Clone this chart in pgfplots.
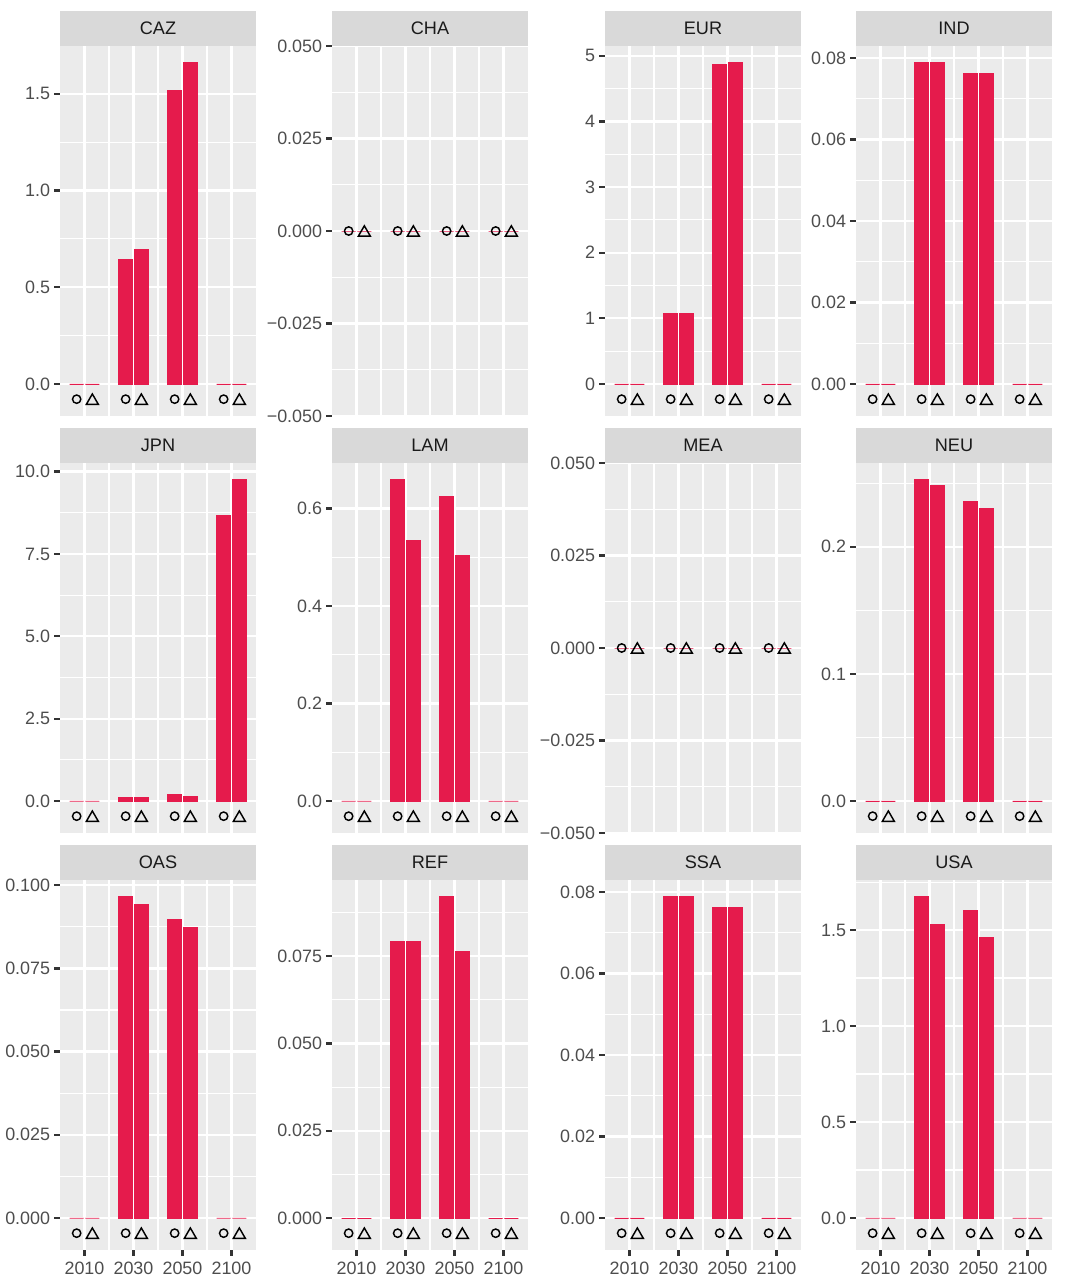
\documentclass[border=0pt]{standalone}
\usepackage{fontspec}
\setmainfont{Liberation Sans}
\usepackage{pgfplots}
\pgfplotsset{compat=1.18}
\usepackage{pgfplotstable}
\definecolor{barred}{HTML}{E51B4C}
\definecolor{panelbg}{HTML}{EBEBEB}
\definecolor{stripbg}{HTML}{D9D9D9}
\definecolor{ticklab}{HTML}{4D4D4D}
\definecolor{tickcol}{HTML}{333333}
\definecolor{striptext}{HTML}{1A1A1A}

\pgfplotstableread{
i a b
1 0 0
2 0.646 0.697
3 1.515 1.660
4 0 0
}\tCAZ
\pgfplotstableread{
i a b
1 0 0
2 0 0
3 0 0
4 0 0
}\tZERO
\pgfplotstableread{
i a b
1 0 0
2 1.079 1.079
3 4.863 4.894
4 0 0
}\tEUR
\pgfplotstableread{
i a b
1 0 0
2 0.0788 0.0788
3 0.0761 0.0761
4 0 0
}\tIND
\pgfplotstableread{
i a b
1 0 0
2 0.11 0.11
3 0.20 0.14
4 8.66 9.75
}\tJPN
\pgfplotstableread{
i a b
1 0 0
2 0.659 0.534
3 0.624 0.503
4 0 0
}\tLAM
\pgfplotstableread{
i a b
1 0 0
2 0.253 0.248
3 0.236 0.230
4 0 0
}\tNEU
\pgfplotstableread{
i a b
1 0 0
2 0.0965 0.0941
3 0.0896 0.0872
4 0 0
}\tOAS
\pgfplotstableread{
i a b
1 0 0
2 0.0792 0.0792
3 0.0920 0.0763
4 0 0
}\tREF
\pgfplotstableread{
i a b
1 0 0
2 0.0788 0.0788
3 0.0761 0.0761
4 0 0
}\tSSA
\pgfplotstableread{
i a b
1 0 0
2 1.673 1.527
3 1.600 1.460
4 0 0
}\tUSA

\pgfplotsset{
  panel/.style={
    scale only axis, width=94.08pt, height=177.6pt,
    anchor=north west,
    xmin=0.5, xmax=4.5, xtick={1,2,3,4}, minor xtick={1.5,2.5,3.5},
    axis line style={draw=none},
    axis background/.style={fill=panelbg},
    grid=both,
    major grid style={white, line width=1.07pt},
    minor grid style={white, line width=0.53pt},
    tick align=outside, tick pos=left,
    major tick length=2.75pt, minor tick length=0pt,
    tick style={tickcol, line width=1.07pt},
    tick label style={font=\fontsize{8.6}{10}\selectfont, text=ticklab},
    yticklabel style={anchor=east, inner sep=0pt, xshift=-1.8pt},
    xticklabel style={anchor=north, inner sep=0pt, yshift=-3.0pt},
  },
  toprow/.style={xticklabels={}, xtick style={draw=none}},
  bottomrow/.style={xticklabels={2010,2030,2050,2100}},
}

\newcommand{\pbars}[1]{%
  \addplot[ybar, bar width=6.66pt, bar shift=0pt, fill=barred, draw=barred, line width=0.4pt]
    table[x expr=\thisrow{i}-0.16, y=a] {#1};
  \addplot[ybar, bar width=6.66pt, bar shift=0pt, fill=barred, draw=barred, line width=0.4pt]
    table[x expr=\thisrow{i}+0.16, y=b] {#1};
}
\newcommand{\pmarks}[1]{%
  \addplot[only marks, mark=o, mark size=2.0pt, black, line width=0.7pt]
    coordinates {(0.84,#1) (1.84,#1) (2.84,#1) (3.84,#1)};
  \addplot[only marks, mark=triangle, mark size=3.3pt, black, line width=0.7pt,
    mark options={yshift=-0.8pt}]
    coordinates {(1.16,#1) (2.16,#1) (3.16,#1) (4.16,#1)};
}
\newcommand{\pstrip}[3]{%
  \fill[stripbg] (#1pt,-#2pt) rectangle ++(94.08pt,-16.8pt);
  \node[font=\fontsize{8.7}{10}\selectfont, text=striptext, inner sep=0pt]
    at ({#1pt+47.04pt},{-#2pt-8.4pt}) {#3};
}

\begin{document}
\begin{tikzpicture}
\path (0,0) rectangle (512.16pt,-618.24pt);

% ---------- row 1 ----------
\begin{axis}[panel, toprow, at={(28.8pt,-22.08pt)},
  ymin=-0.1655, ymax=1.747,
  ytick={0,0.5,1,1.5}, yticklabels={0.0,0.5,1.0,1.5},
  minor ytick={0.25,0.75,1.25}]
  \pbars{\tCAZ}
  \pmarks{-0.0785}
\end{axis}
\pstrip{28.8}{5.28}{CAZ}

\begin{axis}[panel, toprow, at={(159.36pt,-22.08pt)},
  ymin=-0.05, ymax=0.05,
  ytick={-0.05,-0.025,0,0.025,0.05}, yticklabels={−0.050,−0.025,0.000,0.025,0.050},
  minor ytick={-0.0375,-0.0125,0.0125,0.0375}]
  \pbars{\tZERO}
  \pmarks{0}
\end{axis}
\pstrip{159.36}{5.28}{CHA}

\begin{axis}[panel, toprow, at={(290.4pt,-22.08pt)},
  ymin=-0.488, ymax=5.150,
  ytick={0,1,2,3,4,5}, yticklabels={0,1,2,3,4,5},
  minor ytick={0.5,1.5,2.5,3.5,4.5}]
  \pbars{\tEUR}
  \pmarks{-0.2315}
\end{axis}
\pstrip{290.4}{5.28}{EUR}

\begin{axis}[panel, toprow, at={(410.88pt,-22.08pt)},
  ymin=-0.00786, ymax=0.08293,
  ytick={0,0.02,0.04,0.06,0.08}, yticklabels={0.00,0.02,0.04,0.06,0.08},
  minor ytick={0.01,0.03,0.05,0.07}]
  \pbars{\tIND}
  \pmarks{-0.00373}
\end{axis}
\pstrip{410.88}{5.28}{IND}

% ---------- row 2 ----------
\begin{axis}[panel, toprow, at={(28.8pt,-222.24pt)},
  ymin=-0.972, ymax=10.261,
  ytick={0,2.5,5,7.5,10}, yticklabels={0.0,2.5,5.0,7.5,10.0},
  minor ytick={1.25,3.75,6.25,8.75}]
  \pbars{\tJPN}
  \pmarks{-0.461}
\end{axis}
\pstrip{28.8}{205.44}{JPN}

\begin{axis}[panel, toprow, at={(159.36pt,-222.24pt)},
  ymin=-0.0657, ymax=0.6935,
  ytick={0,0.2,0.4,0.6}, yticklabels={0.0,0.2,0.4,0.6},
  minor ytick={0.1,0.3,0.5}]
  \pbars{\tLAM}
  \pmarks{-0.0312}
\end{axis}
\pstrip{159.36}{205.44}{LAM}

\begin{axis}[panel, toprow, at={(290.4pt,-222.24pt)},
  ymin=-0.05, ymax=0.05,
  ytick={-0.05,-0.025,0,0.025,0.05}, yticklabels={−0.050,−0.025,0.000,0.025,0.050},
  minor ytick={-0.0375,-0.0125,0.0125,0.0375}]
  \pbars{\tZERO}
  \pmarks{0}
\end{axis}
\pstrip{290.4}{205.44}{MEA}

\begin{axis}[panel, toprow, at={(410.88pt,-222.24pt)},
  ymin=-0.0252, ymax=0.2659,
  ytick={0,0.1,0.2}, yticklabels={0.0,0.1,0.2},
  minor ytick={0.05,0.15,0.25}]
  \pbars{\tNEU}
  \pmarks{-0.01195}
\end{axis}
\pstrip{410.88}{205.44}{NEU}

% ---------- row 3 ----------
\begin{axis}[panel, bottomrow, at={(28.8pt,-422.4pt)},
  ymin=-0.00962, ymax=0.10156,
  ytick={0,0.025,0.05,0.075,0.1}, yticklabels={0.000,0.025,0.050,0.075,0.100},
  minor ytick={0.0125,0.0375,0.0625,0.0875}]
  \pbars{\tOAS}
  \pmarks{-0.00456}
\end{axis}
\pstrip{28.8}{405.6}{OAS}

\begin{axis}[panel, bottomrow, at={(159.36pt,-422.4pt)},
  ymin=-0.00917, ymax=0.0968,
  ytick={0,0.025,0.05,0.075}, yticklabels={0.000,0.025,0.050,0.075},
  minor ytick={0.0125,0.0375,0.0625,0.0875}]
  \pbars{\tREF}
  \pmarks{-0.00435}
\end{axis}
\pstrip{159.36}{405.6}{REF}

\begin{axis}[panel, bottomrow, at={(290.4pt,-422.4pt)},
  ymin=-0.00786, ymax=0.08293,
  ytick={0,0.02,0.04,0.06,0.08}, yticklabels={0.00,0.02,0.04,0.06,0.08},
  minor ytick={0.01,0.03,0.05,0.07}]
  \pbars{\tSSA}
  \pmarks{-0.00373}
\end{axis}
\pstrip{290.4}{405.6}{SSA}

\begin{axis}[panel, bottomrow, at={(410.88pt,-422.4pt)},
  ymin=-0.1668, ymax=1.7607,
  ytick={0,0.5,1,1.5}, yticklabels={0.0,0.5,1.0,1.5},
  minor ytick={0.25,0.75,1.25,1.75}]
  \pbars{\tUSA}
  \pmarks{-0.0791}
\end{axis}
\pstrip{410.88}{405.6}{USA}

\end{tikzpicture}
\end{document}
